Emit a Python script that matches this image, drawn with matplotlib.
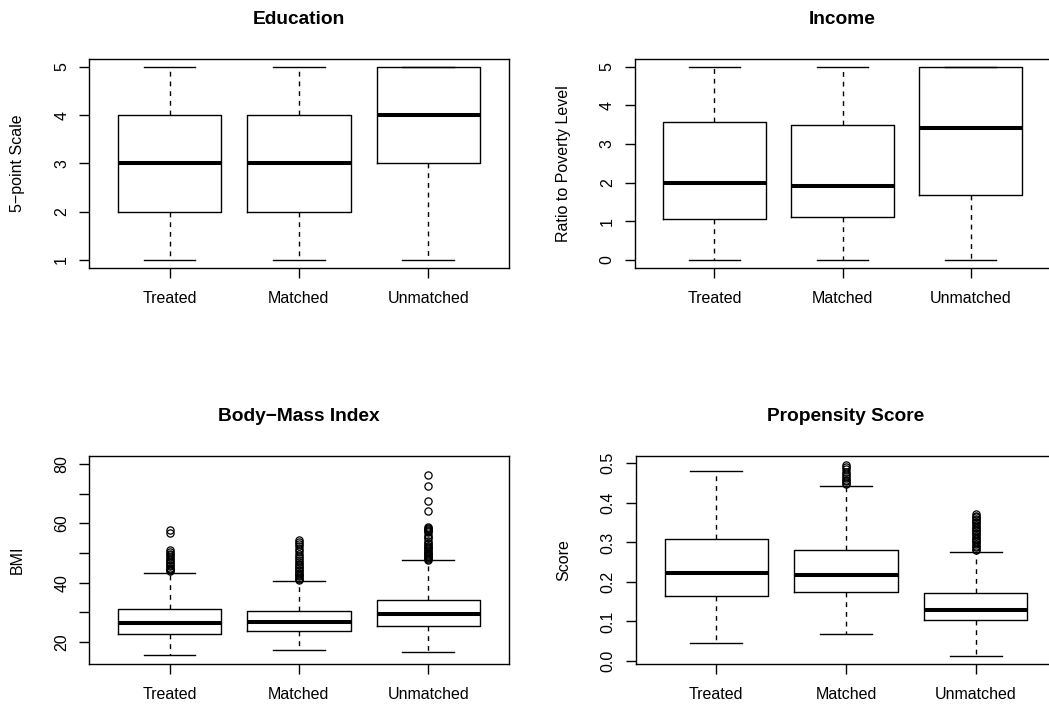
import matplotlib
matplotlib.use("Agg")
import matplotlib.pyplot as plt

plt.rcParams["font.family"] = ["Liberation Sans", "DejaVu Sans"]

groups = ["Treated", "Matched", "Unmatched"]

# Education (5-point scale)
edu_q1 = [2, 2, 3]
edu_med = [3, 3, 4]
edu_q3 = [4, 4, 5]
edu_lo = [1, 1, 1]
edu_hi = [5, 5, 5]
edu_out = [[], [], []]

# Income (ratio to poverty level)
inc_q1 = [1.07, 1.12, 1.69]
inc_med = [1.98, 1.92, 3.41]
inc_q3 = [3.57, 3.49, 5.0]
inc_lo = [0, 0, 0]
inc_hi = [5, 5, 5]
inc_out = [[], [], []]

# Body-mass index
bmi_q1 = [22.8, 23.8, 25.5]
bmi_med = [26.4, 26.7, 29.4]
bmi_q3 = [31.0, 30.6, 34.3]
bmi_lo = [15.7, 17.4, 16.7]
bmi_hi = [43.4, 40.6, 47.5]
bmi_out_treated = [43.8, 44.2, 44.7, 45.1, 45.6, 46.0, 46.5, 47.0, 47.5,
                   48.0, 48.6, 49.2, 49.8, 50.4, 51.0, 56.9, 57.8]
bmi_out_matched = [40.9, 41.3, 41.7, 42.1, 42.5, 42.9, 43.3, 43.8, 44.3,
                   44.8, 45.3, 45.8, 46.4, 47.0, 47.6, 48.3, 49.0, 49.8,
                   50.6, 51.4, 52.2, 53.0, 53.7, 54.4]
bmi_out_unmatched = [47.8, 48.1, 48.4, 48.7, 49.0, 49.3, 49.6, 50.0, 50.4,
                     50.8, 51.2, 51.6, 52.0, 52.5, 53.0, 53.5, 54.0, 55.0,
                     55.5, 56.0, 57.0, 57.4, 57.8, 58.2, 58.6, 58.9,
                     64.0, 67.6, 72.7, 76.3]
bmi_out = [bmi_out_treated, bmi_out_matched, bmi_out_unmatched]

# Propensity score
ps_q1 = [0.165, 0.175, 0.103]
ps_med = [0.222, 0.217, 0.130]
ps_q3 = [0.309, 0.282, 0.173]
ps_lo = [0.045, 0.068, 0.013]
ps_hi = [0.481, 0.443, 0.276]
ps_out_matched = [0.447, 0.451, 0.455, 0.459, 0.464, 0.469, 0.474, 0.479,
                  0.485, 0.491, 0.497]
ps_out_unmatched = [0.280, 0.284, 0.288, 0.292, 0.296, 0.300, 0.304, 0.308,
                    0.312, 0.316, 0.320, 0.324, 0.328, 0.332, 0.336, 0.340,
                    0.344, 0.348, 0.352, 0.356, 0.360, 0.364, 0.368, 0.372]
ps_out = [[], ps_out_matched, ps_out_unmatched]

W, H = 1049, 706


def stats(q1, med, q3, lo, hi, out):
    return [dict(label=g, q1=a, med=b, q3=c, whislo=d, whishi=e, fliers=f)
            for g, a, b, c, d, e, f in zip(groups, q1, med, q3, lo, hi, out)]


def panel(fig, rect_px, st, title, ylabel, ylim, yticks, ylabels):
    left, top, right, bottom = rect_px
    ax = fig.add_axes([left / W, 1 - bottom / H, (right - left) / W,
                       (bottom - top) / H])
    ax.bxp(st, widths=0.8, capwidths=0.4,
           boxprops=dict(color="black", linewidth=1.0),
           whiskerprops=dict(color="black", linewidth=1.0,
                             linestyle=(0, (3.5, 3.5))),
           capprops=dict(color="black", linewidth=1.0),
           medianprops=dict(color="black", linewidth=2.9,
                            solid_capstyle="butt"),
           flierprops=dict(marker="o", markerfacecolor="none",
                           markeredgecolor="black", markersize=5.2,
                           markeredgewidth=0.9, linestyle="none"))
    ax.set_xlim(0.38, 3.62)
    ax.set_ylim(*ylim)
    ax.set_yticks(yticks)
    ax.set_yticklabels(ylabels)
    ax.tick_params(length=7, width=1.0, labelsize=11.5)
    ax.tick_params(axis="x", pad=9.5)
    ax.tick_params(axis="y", labelrotation=90, pad=7.5)
    for lab in ax.get_yticklabels():
        lab.set_va("center")
    for s in ax.spines.values():
        s.set_linewidth(1.0)
    ax.set_title(title, fontsize=13.8, fontweight="bold", pad=25)
    ax.set_ylabel(ylabel, fontsize=11.5, labelpad=21)
    return ax


fig = plt.figure(figsize=(W / 100, H / 100), dpi=100)

panel(fig, (89.3, 59, 508.5, 268),
      stats(edu_q1, edu_med, edu_q3, edu_lo, edu_hi, edu_out),
      "Education", "5\u2212point Scale", (0.834, 5.16),
      [1, 2, 3, 4, 5], ["1", "2", "3", "4", "5"])

panel(fig, (635, 59, 1050, 268),
      stats(inc_q1, inc_med, inc_q3, inc_lo, inc_hi, inc_out),
      "Income", "Ratio to Poverty Level", (-0.207, 5.2),
      [0, 1, 2, 3, 4, 5], ["0", "1", "2", "3", "4", "5"])

panel(fig, (89.3, 456, 508.5, 664),
      stats(bmi_q1, bmi_med, bmi_q3, bmi_lo, bmi_hi, bmi_out),
      "Body\u2212Mass Index", "BMI", (12.6, 82.7),
      [20, 30, 40, 50, 60, 70, 80], ["20", "", "40", "", "60", "", "80"])

panel(fig, (636, 456, 1056, 664),
      stats(ps_q1, ps_med, ps_q3, ps_lo, ps_hi, ps_out),
      "Propensity Score", "Score", (-0.0076, 0.5185),
      [0, 0.1, 0.2, 0.3, 0.4, 0.5],
      ["0.0", "0.1", "0.2", "0.3", "0.4", "0.5"])

fig.savefig("out.png", dpi=100)
